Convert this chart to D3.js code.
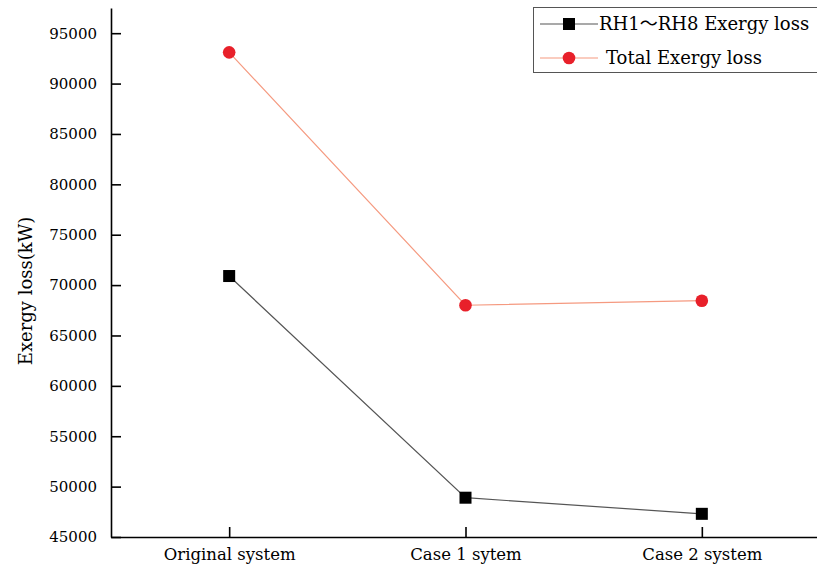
<!DOCTYPE html>
<html><head><meta charset="utf-8">
<script src="https://cdn.jsdelivr.net/npm/d3@7"></script>
<style>body{margin:0;background:#fff;}svg{display:block;}</style>
</head><body><svg id="c" width="817" height="569"></svg>
<script>
const categories = ["Original system", "Case 1 sytem", "Case 2 system"];
const rhValues = [70900, 48900, 47300];
const totalValues = [93100, 68000, 68450];
const yTicks = [45000, 50000, 55000, 60000, 65000, 70000, 75000, 80000, 85000, 90000, 95000];
const seriesNames = [["RH1", "\uFF5E", "RH8 Exergy loss"], ["Total Exergy loss"]];

(function () {
const svg = d3.select("#c");
const font = "'DejaVu Serif', 'Liberation Serif', serif";
const cjk = "'Noto Sans CJK SC', 'Noto Sans CJK JP', sans-serif";
const pLeft = 111, pRight = 820, pTop = 8, pBottom = 537;

const x = d3.scalePoint().domain(categories).range([pLeft, pRight]).padding(0.5);
const y = d3.scaleLinear().domain([45000, 97500]).range([pBottom, pTop]);

const xAxis = svg.append("g").attr("transform", `translate(0,${pBottom})`)
  .call(d3.axisBottom(x).tickSizeInner(-10).tickSizeOuter(0).tickPadding(11));
const yAxis = svg.append("g").attr("transform", `translate(${pLeft},0)`)
  .call(d3.axisLeft(y).tickValues(yTicks).tickFormat(d3.format("d")).tickSizeInner(-10).tickSizeOuter(0).tickPadding(14));

[xAxis, yAxis].forEach(a => {
  a.select(".domain").attr("stroke", "#000").attr("stroke-width", 1.6);
  a.selectAll(".tick line").attr("stroke", "#000").attr("stroke-width", 1.6);
  a.selectAll(".tick text").attr("fill", "#000").style("font-family", font).style("font-size", "15px");
});
xAxis.selectAll(".tick text").style("font-size", "16.5px");

svg.append("text")
  .attr("transform", `translate(32,291) rotate(-90)`)
  .attr("text-anchor", "middle")
  .style("font-family", font).style("font-size", "18px").attr("fill", "#000")
  .text("Exergy loss(kW)");

const line = d3.line().x((d, i) => x(categories[i])).y(d => y(d));

svg.append("path").datum(totalValues).attr("d", line)
  .attr("fill", "none").attr("stroke", "#f59a80").attr("stroke-width", 1.2);
svg.append("path").datum(rhValues).attr("d", line)
  .attr("fill", "none").attr("stroke", "#555").attr("stroke-width", 1.2);

svg.selectAll(".tot").data(totalValues).enter().append("circle")
  .attr("cx", (d, i) => x(categories[i])).attr("cy", d => y(d)).attr("r", 6.3)
  .attr("fill", "#e8202a");
svg.selectAll(".rh").data(rhValues).enter().append("rect")
  .attr("x", (d, i) => x(categories[i]) - 6).attr("y", d => y(d) - 6)
  .attr("width", 12).attr("height", 12).attr("fill", "#000");

// legend
const lg = svg.append("g");
lg.append("rect").attr("x", 533.5).attr("y", 7.5).attr("width", 290).attr("height", 65)
  .attr("fill", "#fff").attr("stroke", "#555").attr("stroke-width", 1);
lg.append("line").attr("x1", 540).attr("x2", 598).attr("y1", 24).attr("y2", 24)
  .attr("stroke", "#555").attr("stroke-width", 1.2);
lg.append("rect").attr("x", 563).attr("y", 18).attr("width", 12).attr("height", 12).attr("fill", "#000");
const t1 = lg.append("text").attr("x", 599).attr("y", 30).style("font-family", font).style("font-size", "18px")
  .attr("fill", "#000");
t1.append("tspan").text(seriesNames[0][0]);
t1.append("tspan").style("font-family", cjk).text(seriesNames[0][1]);
t1.append("tspan").text(seriesNames[0][2]);
lg.append("line").attr("x1", 540).attr("x2", 598).attr("y1", 58).attr("y2", 58)
  .attr("stroke", "#f59a80").attr("stroke-width", 1.2);
lg.append("circle").attr("cx", 569).attr("cy", 58).attr("r", 6.3).attr("fill", "#e8202a");
lg.append("text").attr("x", 606).attr("y", 64).style("font-family", font).style("font-size", "18px")
  .attr("fill", "#000").text(seriesNames[1][0]);
})();
</script></body></html>
